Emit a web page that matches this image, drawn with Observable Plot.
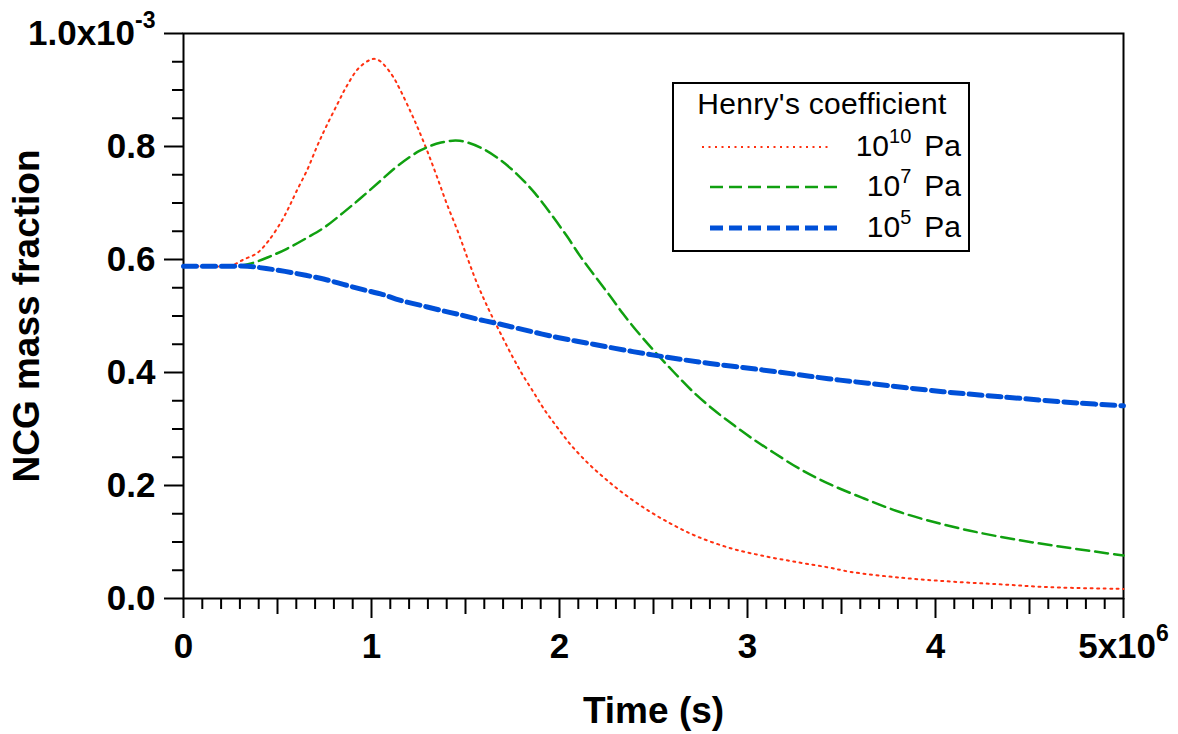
<!DOCTYPE html>
<html>
<head>
<meta charset="utf-8">
<script src="https://cdn.jsdelivr.net/npm/d3@7"></script>
<script src="https://cdn.jsdelivr.net/npm/@observablehq/plot@0.6"></script>
<style>
  body { margin: 0; background: #fff; }
  #wrap { position: relative; width: 1178px; height: 734px; font-family: "Liberation Sans", Arial, sans-serif; }
</style>
</head>
<body>
<div id="wrap"></div>
<script>
// Time in units of 10^6 s, NCG mass fraction in units of 10^-3 (as on the axes)
const tRed = [0, 0.1, 0.2, 0.26, 0.32, 0.39, 0.45, 0.52, 0.56, 0.6, 0.66, 0.71, 0.76, 0.82, 0.87, 0.93, 0.99, 1.02, 1.05, 1.11, 1.15, 1.21, 1.25, 1.30, 1.35, 1.40, 1.46, 1.51, 1.56, 1.62, 1.67, 1.75, 1.80, 1.86, 1.92, 1.99, 2.06, 2.15, 2.24, 2.34, 2.47, 2.60, 2.73, 2.91, 3.09, 3.27, 3.43, 3.55, 3.81, 4.08, 4.35, 4.61, 5.0];
const vRed = [0.588, 0.588, 0.588, 0.590, 0.600, 0.611, 0.632, 0.667, 0.692, 0.720, 0.760, 0.800, 0.836, 0.876, 0.908, 0.938, 0.953, 0.955, 0.950, 0.926, 0.902, 0.860, 0.830, 0.789, 0.745, 0.699, 0.649, 0.603, 0.559, 0.514, 0.480, 0.428, 0.398, 0.366, 0.334, 0.302, 0.272, 0.240, 0.213, 0.186, 0.156, 0.131, 0.110, 0.089, 0.075, 0.064, 0.055, 0.047, 0.037, 0.030, 0.025, 0.020, 0.017];

const tGreen = [0, 0.2, 0.30, 0.36, 0.45, 0.55, 0.66, 0.75, 0.85, 0.94, 1.05, 1.14, 1.26, 1.37, 1.47, 1.58, 1.69, 1.78, 1.87, 1.96, 2.04, 2.11, 2.19, 2.27, 2.34, 2.43, 2.52, 2.61, 2.71, 2.82, 2.93, 3.03, 3.14, 3.28, 3.44, 3.62, 3.81, 4.03, 4.24, 4.45, 4.66, 5.0];
const vGreen = [0.588, 0.588, 0.589, 0.593, 0.604, 0.619, 0.639, 0.657, 0.683, 0.708, 0.740, 0.766, 0.793, 0.807, 0.810, 0.798, 0.775, 0.749, 0.717, 0.678, 0.641, 0.606, 0.570, 0.535, 0.503, 0.466, 0.432, 0.400, 0.366, 0.334, 0.306, 0.282, 0.258, 0.229, 0.202, 0.177, 0.153, 0.132, 0.116, 0.103, 0.092, 0.076];

const tBlue = [0, 0.23, 0.34, 0.44, 0.54, 0.65, 0.75, 0.85, 0.95, 1.06, 1.15, 1.26, 1.37, 1.46, 1.57, 1.68, 1.78, 1.99, 2.18, 2.39, 2.59, 2.80, 3.02, 3.23, 3.43, 3.64, 4.04, 4.35, 4.76, 5.0];
const vBlue = [0.588, 0.588, 0.588, 0.584, 0.579, 0.572, 0.565, 0.556, 0.547, 0.538, 0.528, 0.519, 0.510, 0.503, 0.494, 0.486, 0.478, 0.462, 0.450, 0.437, 0.426, 0.416, 0.407, 0.398, 0.389, 0.381, 0.366, 0.357, 0.346, 0.341];

const seriesBase = ["10", "10", "10"];
const seriesExp = ["10", "7", "5"];
const seriesUnit = "Pa";
const legendTitle = "Henry's coefficient";

const xMajor = [0, 1, 2, 3, 4, 5];
const xLabels = ["0", "1", "2", "3", "4", "5x10^6"];
const yMajor = [0, 0.2, 0.4, 0.6, 0.8, 1.0];
const yLabels = ["0.0", "0.2", "0.4", "0.6", "0.8", "1.0x10^-3"];
const xTitle = "Time (s)";
const yTitle = "NCG mass fraction";

// Styles (kept separate from data)
const styles = [
  {stroke: "#ff3010", strokeWidth: 2, strokeDasharray: "2,4.5"},
  {stroke: "#10a010", strokeWidth: 2.5, strokeDasharray: "13,6"},
  {stroke: "#0050d8", strokeWidth: 5, strokeDasharray: "13,6"}
];

const series = [
  tRed.map((t, i) => ({t, v: vRed[i]})),
  tGreen.map((t, i) => ({t, v: vGreen[i]})),
  tBlue.map((t, i) => ({t, v: vBlue[i]}))
];

const xMinor = d3.range(0, 51, 1).filter(d => d % 5 !== 0).map(d => d / 10);
const xMid = [0.5, 1.5, 2.5, 3.5, 4.5];
const yMinor = d3.range(0, 21, 1).filter(d => d % 4 !== 0).map(d => d / 20);

const lookup = (arr, labels) => d => labels[arr.findIndex(a => Math.abs(a - d) < 1e-9)];

const FONT = "'Liberation Sans', Arial, Helvetica, sans-serif";

const plot = Plot.plot({
  width: 1178,
  height: 734,
  marginLeft: 183,
  marginRight: 55,
  marginTop: 33,
  marginBottom: 136,
  x: {domain: [0, 5]},
  y: {domain: [0, 1]},
  style: {fontFamily: FONT, background: "white", color: "black", overflow: "visible"},
  marks: [
    Plot.axisX(xMinor, {tickSize: 11, text: null, strokeWidth: 2, label: null}),
    Plot.axisX(xMid, {tickSize: 16, text: null, strokeWidth: 2, label: null}),
    Plot.axisX(xMajor, {tickSize: 20, tickPadding: 15, strokeWidth: 2, fontSize: 35, fontWeight: "bold", tickFormat: lookup(xMajor, xLabels), label: null}),
    Plot.axisY(yMinor, {tickSize: 11, text: null, strokeWidth: 2, label: null}),
    Plot.axisY(yMajor, {tickSize: 19, tickPadding: 9, strokeWidth: 2, fontSize: 35, fontWeight: "bold", tickFormat: lookup(yMajor, yLabels), label: null}),
    Plot.frame({stroke: "black", strokeWidth: 2}),
    ...series.map((data, i) => Plot.line(data, {x: "t", y: "v", curve: "catmull-rom", ...styles[i]})),
    Plot.text([xTitle], {frameAnchor: "bottom", textAnchor: "middle", lineAnchor: "middle", dy: 113, fontSize: 37, fontWeight: "bold"}),
    Plot.text([yTitle], {frameAnchor: "left", textAnchor: "middle", lineAnchor: "middle", rotate: -90, dx: -156, fontSize: 37, fontWeight: "bold"})
  ]
});

// superscripts in tick labels
d3.select(plot).selectAll("text").each(function () {
  const s = this.textContent;
  if (!s.includes("^")) return;
  const [a, b] = s.split("^");
  const el = d3.select(this);
  el.text(null);
  el.append("tspan").text(a);
  el.append("tspan").attr("dy", -17).attr("font-size", 23).text(b);
});

const wrap = document.getElementById("wrap");
wrap.appendChild(plot);

// legend box overlaid inside the plot area
const lg = d3.select(wrap).append("svg")
  .attr("width", 298).attr("height", 170)
  .style("position", "absolute").style("left", "672px").style("top", "82px")
  .style("font-family", FONT);
lg.append("rect").attr("x", 1).attr("y", 1).attr("width", 296).attr("height", 168)
  .attr("fill", "white").attr("stroke", "black").attr("stroke-width", 2);
lg.append("text").attr("x", 150).attr("y", 32).attr("text-anchor", "middle")
  .attr("font-size", 30).attr("letter-spacing", 0.3).text(legendTitle);
const rowsY = [65, 105, 146];
const lineX = [[30, 156], [38, 168], [38, 168]];
seriesExp.forEach((e, i) => {
  lg.append("line")
    .attr("x1", lineX[i][0]).attr("x2", lineX[i][1])
    .attr("y1", rowsY[i]).attr("y2", rowsY[i])
    .attr("stroke", styles[i].stroke)
    .attr("stroke-width", styles[i].strokeWidth)
    .attr("stroke-dasharray", styles[i].strokeDasharray);
  const t = lg.append("text").attr("x", 289).attr("y", rowsY[i] + 9)
    .attr("text-anchor", "end").attr("font-size", 30);
  t.append("tspan").text(seriesBase[i]);
  t.append("tspan").attr("dy", -13).attr("font-size", 20).text(e);
  t.append("tspan").attr("dy", 13).attr("dx", 13).text(seriesUnit);
});
</script>
</body>
</html>
